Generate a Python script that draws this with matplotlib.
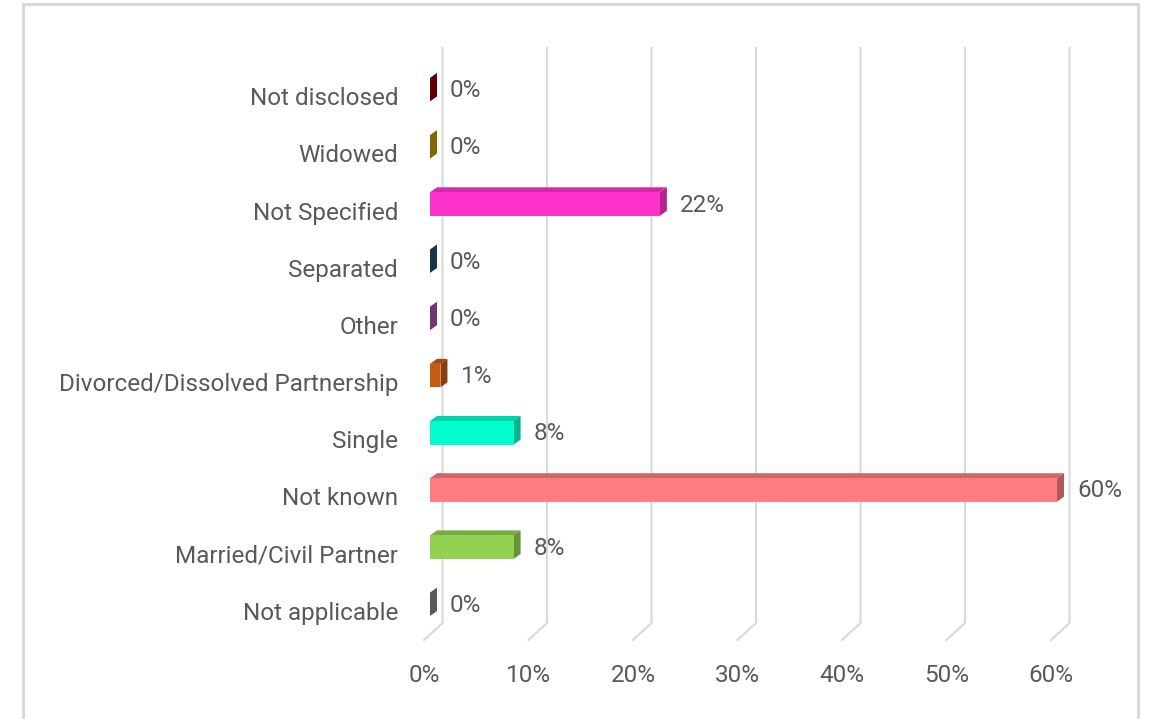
import matplotlib.pyplot as plt
from matplotlib.colors import to_rgb
from matplotlib.patches import Polygon, Rectangle

# marital status breakdown, bottom row first
categories = ['Not applicable', 'Married/Civil Partner', 'Not known', 'Single',
              'Divorced/Dissolved Partnership', 'Other', 'Separated',
              'Not Specified', 'Widowed', 'Not disclosed']
values = [0, 8, 60, 8, 1, 0, 0, 22, 0, 0]
bar_colors = ['#7f7f7f', '#92d050', '#ff7c80', '#00ffcc', '#c55a11',
              '#a64ca6', '#1f4e60', '#ff33cc', '#bf9000', '#8b0000']
x_ticks = [0, 10, 20, 30, 40, 50, 60]

W, H = 1151, 719
TEXT = '#595959'
GRID = '#d9d9d9'
FS = 17.5
plt.rcParams['font.family'] = ['Roboto', 'DejaVu Sans']

fig = plt.figure(figsize=(W / 100, H / 100), dpi=100)

# axes placed so that x=0 sits at the front face of the bars
x_lo, x_hi = 0, 65
y_lo, y_hi = -1, 10
px_x = 10.45          # pixels per percent
left_px, bottom_px, top_px = 430, 668, 39
ax = fig.add_axes([left_px / W, (H - bottom_px) / H,
                   (x_hi - x_lo) * px_x / W, (bottom_px - top_px) / H])
ax.set_xlim(x_lo, x_hi)
ax.set_ylim(y_lo, y_hi)
px_y = (bottom_px - top_px) / (y_hi - y_lo)

def dx(p):
    return p / px_x

def dy(p):
    return p / px_y

# 3d look: depth of bars, lift of bar above category centre
depth_x, depth_y = dx(7), dy(5)
bar_h = dy(23.5)
lift = dy(6.5)

# back wall gridlines with the slanted floor piece
back_shift = dx(12.5)
floor_shift = dx(-6)
grid_top = y_hi - dy(9)
grid_bot = y_lo + dy(45)
floor_y = y_lo + dy(28)
for v in x_ticks:
    ax.plot([v + back_shift, v + back_shift, v + floor_shift],
            [grid_top, grid_bot, floor_y], color=GRID, lw=1.5,
            solid_joinstyle='miter', zorder=1, clip_on=False)
    ax.text(v + floor_shift, y_lo - dy(8), f'{v}%', ha='center', va='center',
            fontsize=FS, color=TEXT)

def shade(c, f):
    r, g, b = to_rgb(c)
    return (r * f, g * f, b * f)

for k, (val, col) in enumerate(zip(values, bar_colors)):
    y0 = k + lift - bar_h / 2
    y1 = k + lift + bar_h / 2
    # top face
    ax.add_patch(Polygon([(0, y1), (val, y1), (val + depth_x, y1 + depth_y),
                          (depth_x, y1 + depth_y)], closed=True,
                         facecolor=shade(col, 0.82), edgecolor='none', zorder=3))
    # right side face
    ax.add_patch(Polygon([(val, y0), (val + depth_x, y0 + depth_y),
                          (val + depth_x, y1 + depth_y), (val, y1)], closed=True,
                         facecolor=shade(col, 0.7), edgecolor='none', zorder=3))
    # front face
    if val > 0:
        ax.add_patch(Polygon([(0, y0), (val, y0), (val, y1), (0, y1)], closed=True,
                             facecolor=col, edgecolor='none', zorder=4))
    ax.text(val + depth_x + dx(13), k + lift - dy(1), f'{val}%', ha='left',
            va='center', fontsize=FS, color=TEXT, zorder=5)

ax.set_yticks(range(len(categories)))
ax.set_yticklabels(categories, fontsize=FS, color=TEXT)
ax.tick_params(axis='y', length=0, pad=23)
ax.set_xticks([])
for s in ax.spines.values():
    s.set_visible(False)

# chart area border
fig.patches.append(Rectangle((23 / W, -0.05), (1138 - 23) / W, 1.05 - 4 / H,
                             transform=fig.transFigure, fill=False,
                             edgecolor=GRID, lw=2.2))

fig.savefig('out.png', dpi=100, facecolor='white')
